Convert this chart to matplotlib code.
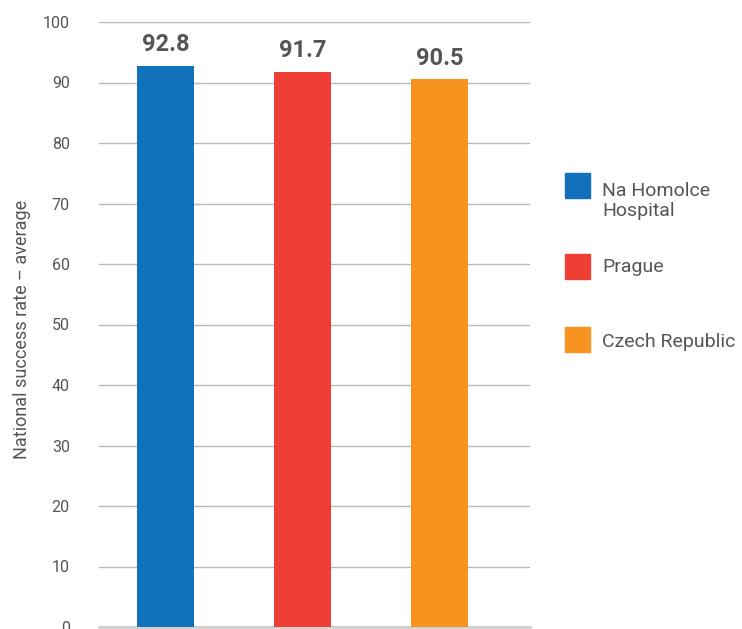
import matplotlib.pyplot as plt
from matplotlib.patches import Rectangle

plt.rcParams['font.family'] = ['Roboto', 'DejaVu Sans']

categories = ['Na Homolce Hospital', 'Prague', 'Czech Republic']
legend_labels = ['Na Homolce\nHospital', 'Prague', 'Czech Republic']
values = [92.8, 91.7, 90.5]
value_labels = ['92.8', '91.7', '90.5']
colors = ['#1172BB', '#EF3E36', '#F7931E']
yticks = [0, 10, 20, 30, 40, 50, 60, 70, 80, 90, 100]

text_col = '#555555'

fig = plt.figure(figsize=(7.42, 6.29), dpi=100)
ax = fig.add_axes([99 / 742, 1 - 627 / 629, 431 / 742, 605 / 629])

x = list(range(len(categories)))
bars = ax.bar(x, values, width=0.416, color=colors, zorder=3)

for b, lab in zip(bars, value_labels):
    ax.annotate(lab, (b.get_x() + b.get_width() / 2, b.get_height()),
                xytext=(0, 7), textcoords='offset points', ha='center', va='bottom',
                fontsize=17, fontweight='bold', color=text_col)

ax.set_xlim(-0.485, 2.66)
ax.set_ylim(0, 100)
ax.set_yticks(yticks)
ax.set_xticks([])
ax.yaxis.grid(True, color='#b8b8b8', linewidth=1, zorder=0)
ax.tick_params(axis='y', length=0, pad=21, labelsize=11.5, labelcolor=text_col)
for s in ['top', 'right', 'left']:
    ax.spines[s].set_visible(False)
ax.spines['bottom'].set_color('#cfcfcf')
ax.spines['bottom'].set_linewidth(2)

fig.text(22 / 742, 1 - 329 / 629, 'National success rate – average', rotation=90,
         ha='center', va='center', fontsize=13, color=text_col)

# legend drawn by hand
square_tops = [173, 254, 327]
text_y = [201, 267, 342]
for top, ty, c, lab in zip(square_tops, text_y, colors, legend_labels):
    fig.patches.append(Rectangle((565 / 742, 1 - (top + 25) / 629), 25 / 742, 25 / 629,
                                 transform=fig.transFigure, color=c, figure=fig))
    fig.text(602 / 742, 1 - ty / 629, lab, ha='left', va='center', fontsize=14,
             color=text_col, linespacing=1.2)

fig.savefig('out.png', dpi=100)
